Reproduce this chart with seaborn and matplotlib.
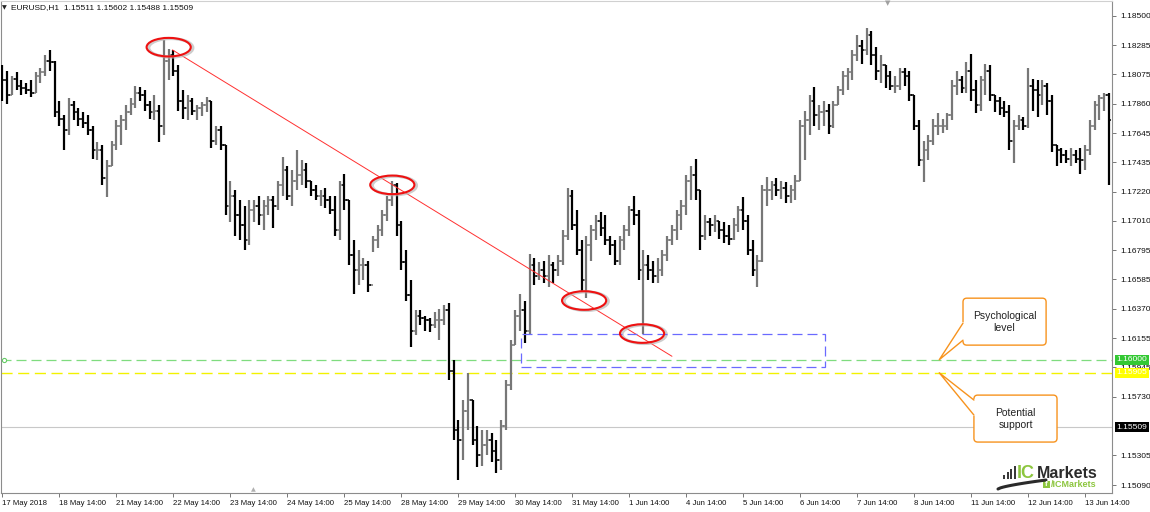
import numpy as np
import pandas as pd
import seaborn as sns
import matplotlib.pyplot as plt
from matplotlib.patches import Ellipse, Rectangle, FancyBboxPatch
from matplotlib.lines import Line2D

# 2-hour bars (17 May 14:00 -> 14 Jun)
highs = [1.1814, 1.1810, 1.1806, 1.1809, 1.1803, 1.1801, 1.1803, 1.1809, 1.1812, 1.1821,
         1.1825, 1.1817, 1.1788, 1.1778, 1.1790, 1.1788, 1.1783, 1.1780, 1.1778, 1.1770,
         1.1758, 1.1756, 1.1745, 1.1759, 1.1774, 1.1778, 1.1785, 1.1790, 1.1799, 1.1798,
         1.1796, 1.1788, 1.1792, 1.1785, 1.1832, 1.1826, 1.1825, 1.1814, 1.1796, 1.1792,
         1.1790, 1.1785, 1.1787, 1.1791, 1.1788, 1.1770, 1.1770, 1.1756, 1.1730, 1.1723,
         1.1716, 1.1712, 1.1716, 1.1716, 1.1719, 1.1716, 1.1719, 1.1719, 1.1730, 1.1747,
         1.1741, 1.1738, 1.1752, 1.1745, 1.1743, 1.1730, 1.1727, 1.1723, 1.1725, 1.1719,
         1.1719, 1.1730, 1.1735, 1.1716, 1.1687, 1.1680, 1.1674, 1.1672, 1.1690, 1.1698,
         1.1709, 1.1719, 1.1730, 1.1728, 1.1701, 1.1680, 1.1658, 1.1636, 1.1636, 1.1632,
         1.1630, 1.1635, 1.1637, 1.1640, 1.1641, 1.1600, 1.1556, 1.1571, 1.1590, 1.1571,
         1.1552, 1.1549, 1.1549, 1.1547, 1.1542, 1.1556, 1.1585, 1.1614, 1.1636, 1.1648,
         1.1643, 1.1677, 1.1674, 1.1671, 1.1672, 1.1676, 1.1671, 1.1676, 1.1694, 1.1725,
         1.1723, 1.1709, 1.1687, 1.1690, 1.1698, 1.1705, 1.1707, 1.1705, 1.1690, 1.1687,
         1.1690, 1.1698, 1.1712, 1.1719, 1.1709, 1.1680, 1.1676, 1.1672, 1.1674, 1.1680,
         1.1690, 1.1698, 1.1709, 1.1716, 1.1734, 1.1741, 1.1746, 1.1723, 1.1705, 1.1703,
         1.1705, 1.1701, 1.1700, 1.1698, 1.1703, 1.1712, 1.1718, 1.1705, 1.1687, 1.1676,
         1.1727, 1.1733, 1.1730, 1.1732, 1.1730, 1.1729, 1.1727, 1.1734, 1.1774, 1.1781,
         1.1792, 1.1798, 1.1785, 1.1788, 1.1786, 1.1788, 1.1799, 1.1810, 1.1812, 1.1825,
         1.1836, 1.1832, 1.1841, 1.1839, 1.1827, 1.1821, 1.1814, 1.1810, 1.1806, 1.1812,
         1.1812, 1.1810, 1.1792, 1.1774, 1.1759, 1.1763, 1.1775, 1.1779, 1.1775, 1.1779,
         1.1803, 1.1810, 1.1806, 1.1816, 1.1822, 1.1803, 1.1806, 1.1815, 1.1814, 1.1792,
         1.1791, 1.1788, 1.1785, 1.1774, 1.1778, 1.1776, 1.1812, 1.1804, 1.1803, 1.1803,
         1.1801, 1.1792, 1.1756, 1.1754, 1.1752, 1.1754, 1.1752, 1.1754, 1.1756, 1.1774,
         1.1788, 1.1792, 1.1794, 1.1794]
lows = [1.1788, 1.1786, 1.1792, 1.1796, 1.1792, 1.1793, 1.1791, 1.1794, 1.1801, 1.1806,
        1.1810, 1.1776, 1.1770, 1.1752, 1.1763, 1.1774, 1.1770, 1.1768, 1.1763, 1.1746,
        1.1745, 1.1727, 1.1718, 1.1741, 1.1752, 1.1756, 1.1767, 1.1778, 1.1783, 1.1788,
        1.1781, 1.1775, 1.1774, 1.1758, 1.1763, 1.1803, 1.1806, 1.1781, 1.1775, 1.1774,
        1.1778, 1.1774, 1.1777, 1.1780, 1.1754, 1.1756, 1.1752, 1.1705, 1.1700, 1.1690,
        1.1687, 1.1680, 1.1683, 1.1700, 1.1698, 1.1694, 1.1705, 1.1696, 1.1709, 1.1719,
        1.1716, 1.1712, 1.1723, 1.1727, 1.1725, 1.1719, 1.1716, 1.1712, 1.1710, 1.1706,
        1.1690, 1.1687, 1.1709, 1.1669, 1.1648, 1.1654, 1.1658, 1.1649, 1.1678, 1.1681,
        1.1690, 1.1701, 1.1712, 1.1690, 1.1665, 1.1643, 1.1609, 1.1618, 1.1625, 1.1621,
        1.1620, 1.1623, 1.1614, 1.1625, 1.1585, 1.1542, 1.1513, 1.1527, 1.1549, 1.1538,
        1.1522, 1.1523, 1.1531, 1.1526, 1.1518, 1.1520, 1.1549, 1.1578, 1.1611, 1.1621,
        1.1612, 1.1618, 1.1654, 1.1658, 1.1656, 1.1653, 1.1656, 1.1661, 1.1669, 1.1687,
        1.1694, 1.1676, 1.1649, 1.1645, 1.1672, 1.1687, 1.1690, 1.1683, 1.1676, 1.1669,
        1.1669, 1.1680, 1.1690, 1.1698, 1.1658, 1.1619, 1.1658, 1.1656, 1.1656, 1.1661,
        1.1672, 1.1683, 1.1687, 1.1694, 1.1705, 1.1716, 1.1716, 1.1680, 1.1687, 1.1690,
        1.1693, 1.1688, 1.1685, 1.1683, 1.1687, 1.1693, 1.1694, 1.1676, 1.1661, 1.1653,
        1.1671, 1.1712, 1.1716, 1.1719, 1.1717, 1.1714, 1.1714, 1.1716, 1.1730, 1.1745,
        1.1763, 1.1770, 1.1767, 1.1770, 1.1764, 1.1768, 1.1785, 1.1792, 1.1796, 1.1803,
        1.1817, 1.1815, 1.1821, 1.1814, 1.1803, 1.1801, 1.1797, 1.1796, 1.1794, 1.1796,
        1.1799, 1.1788, 1.1767, 1.1741, 1.1729, 1.1745, 1.1756, 1.1763, 1.1765, 1.1767,
        1.1774, 1.1792, 1.1794, 1.1794, 1.1788, 1.1779, 1.1781, 1.1792, 1.1788, 1.1780,
        1.1778, 1.1776, 1.1752, 1.1743, 1.1767, 1.1767, 1.1768, 1.1781, 1.1776, 1.1785,
        1.1778, 1.1751, 1.1741, 1.1743, 1.1743, 1.1741, 1.1743, 1.1735, 1.1738, 1.1749,
        1.1767, 1.1774, 1.1781, 1.1727]
closes = [1.1803, 1.1792, 1.1804, 1.1799, 1.1797, 1.1796, 1.1794, 1.1806, 1.1809, 1.1817,
          1.1816, 1.1780, 1.1775, 1.1767, 1.1785, 1.1780, 1.1775, 1.1772, 1.1767, 1.1752,
          1.1752, 1.1732, 1.1741, 1.1756, 1.1770, 1.1774, 1.1780, 1.1786, 1.1794, 1.1792,
          1.1785, 1.1780, 1.1781, 1.1770, 1.1817, 1.1821, 1.1810, 1.1788, 1.1783, 1.1788,
          1.1781, 1.1783, 1.1785, 1.1788, 1.1759, 1.1767, 1.1756, 1.1712, 1.1719, 1.1705,
          1.1698, 1.1687, 1.1709, 1.1712, 1.1705, 1.1712, 1.1716, 1.1712, 1.1727, 1.1738,
          1.1719, 1.1730, 1.1734, 1.1738, 1.1730, 1.1723, 1.1719, 1.1719, 1.1716, 1.1709,
          1.1694, 1.1727, 1.1716, 1.1676, 1.1665, 1.1669, 1.1669, 1.1654, 1.1687, 1.1694,
          1.1705, 1.1716, 1.1727, 1.1698, 1.1671, 1.1647, 1.1621, 1.1632, 1.1630, 1.1629,
          1.1625, 1.1629, 1.1629, 1.1636, 1.1592, 1.1549, 1.1542, 1.1563, 1.1571, 1.1542,
          1.1531, 1.1538, 1.1542, 1.1534, 1.1527, 1.1552, 1.1582, 1.1611, 1.1632, 1.1636,
          1.1621, 1.1669, 1.1661, 1.1665, 1.1661, 1.1669, 1.1665, 1.1672, 1.1690, 1.1719,
          1.1698, 1.1680, 1.1658, 1.1683, 1.1694, 1.1701, 1.1696, 1.1687, 1.1683, 1.1672,
          1.1687, 1.1694, 1.1709, 1.1705, 1.1665, 1.1669, 1.1665, 1.1661, 1.1665, 1.1676,
          1.1687, 1.1694, 1.1705, 1.1712, 1.1730, 1.1734, 1.1723, 1.1690, 1.1700, 1.1698,
          1.1701, 1.1694, 1.1690, 1.1688, 1.1698, 1.1709, 1.1701, 1.1680, 1.1665, 1.1672,
          1.1723, 1.1723, 1.1727, 1.1723, 1.1725, 1.1719, 1.1723, 1.1730, 1.1770, 1.1774,
          1.1788, 1.1778, 1.1780, 1.1781, 1.1770, 1.1785, 1.1796, 1.1806, 1.1809, 1.1821,
          1.1828, 1.1825, 1.1836, 1.1821, 1.1810, 1.1814, 1.1806, 1.1799, 1.1799, 1.1809,
          1.1806, 1.1792, 1.1770, 1.1745, 1.1752, 1.1759, 1.1770, 1.1770, 1.1770, 1.1778,
          1.1799, 1.1803, 1.1797, 1.1810, 1.1796, 1.1785, 1.1803, 1.1810, 1.1792, 1.1788,
          1.1783, 1.1780, 1.1759, 1.1770, 1.1774, 1.1770, 1.1799, 1.1796, 1.1792, 1.1799,
          1.1788, 1.1756, 1.1752, 1.1749, 1.1746, 1.1749, 1.1746, 1.1745, 1.1752, 1.1770,
          1.1785, 1.1790, 1.1792, 1.1774]
first_open = 1.1808

date_labels = ["17 May 2018", "18 May 14:00", "21 May 14:00", "22 May 14:00", "23 May 14:00",
               "24 May 14:00", "25 May 14:00", "28 May 14:00", "29 May 14:00", "30 May 14:00",
               "31 May 14:00", "1 Jun 14:00", "4 Jun 14:00", "5 Jun 14:00", "6 Jun 14:00",
               "7 Jun 14:00", "8 Jun 14:00", "11 Jun 14:00", "12 Jun 14:00", "13 Jun 14:00"]
bars_per_day = 12

price_ticks = [1.18500, 1.18285, 1.18075, 1.17860, 1.17645, 1.17435, 1.17220, 1.17010,
               1.16795, 1.16585, 1.16370, 1.16155, 1.15945, 1.15730, 1.15305, 1.15090]

psych_level = 1.16000
support_level = 1.15905
last_price = 1.15509
header = "EURUSD,H1  1.15511 1.15602 1.15488 1.15509"

# annotations drawn on the chart
swing_idx = [35.0, 82.1, 122.5, 134.7]
swing_price = [1.1827, 1.1727, 1.1643, 1.1619]
trend_idx = [35.8, 141.0]
trend_price = [1.1825, 1.16025]
zone_idx = [109.2, 173.3]
zone_price = [1.15945, 1.1619]

df = pd.DataFrame({"high": highs, "low": lows, "close": closes})
df["open"] = df["close"].shift(1).fillna(first_open)
df["idx"] = np.arange(len(df))
df["up"] = df["close"] >= df["open"]

sns.set_theme(style="white")
plt.rcParams["font.family"] = ["Liberation Sans", "DejaVu Sans"]

W, H = 1150, 512
fig = plt.figure(figsize=(W / 100, H / 100), dpi=100)
ax = fig.add_axes([0.5 / W, 19 / H, 1111.5 / W, 492.5 / H])
ax.set_xlim(-0.42, 233.68)
ax.set_ylim(1.15032, 1.18609)

# -----------------------------
# OHLC bars
# -----------------------------
for up, col in [(True, "#777777"), (False, "black")]:
    d = df[df["up"] == up]
    ax.vlines(d["idx"], d["low"], d["high"], color=col, lw=1.6, zorder=3)
    ax.hlines(d["open"], d["idx"] - 0.55, d["idx"], color=col, lw=1.1, zorder=3)
    ax.hlines(d["close"], d["idx"], d["idx"] + 0.55, color=col, lw=1.1, zorder=3)

# levels
ax.axhline(last_price, color="#c8c8c8", lw=0.8, zorder=1)
ax.axhline(psych_level, color="#7fdc7f", lw=0.9, ls=(0, (8, 4)), zorder=2)
ax.axhline(support_level, color="#f2f200", lw=1.0, ls=(0, (8, 4)), zorder=2)
ax.plot([0.3], [psych_level], marker="o", ms=3, mfc="white", mec="#66cc66", mew=0.8, zorder=4)

# trend line + swing ellipses
sns.lineplot(x=trend_idx, y=trend_price, color="#ff3030", lw=0.7, ax=ax, zorder=4)
for xi, yi in zip(swing_idx, swing_price):
    ax.add_patch(Ellipse((xi + 0.45, yi - 0.00005), 9.3, 0.00135, fill=False,
                         ec="#b8b8b8", lw=2.2, alpha=0.7, zorder=4))
    ax.add_patch(Ellipse((xi, yi), 9.3, 0.00135, fill=False, ec="#ee1111", lw=1.5, zorder=5))

ax.add_patch(Rectangle((zone_idx[0], zone_price[0]), zone_idx[1] - zone_idx[0],
                       zone_price[1] - zone_price[0], fill=False, ec="#6a6aff",
                       lw=0.9, ls=(0, (8, 4)), zorder=4))

# -----------------------------
# callouts
# -----------------------------
orange = "#f7931e"
aspect = 0.00007255 * 4.75


def callout(x0, x1, ytop, ybot, ya, yb, tip_x, tip_y, text):
    box = FancyBboxPatch((x0, ybot), x1 - x0, ytop - ybot,
                         boxstyle="round,pad=0,rounding_size=0.8", mutation_aspect=aspect,
                         fc="white", ec=orange, lw=1.0, zorder=6)
    ax.add_patch(box)
    ax.plot([x0, x0], [ya, yb], color="white", lw=1.6, zorder=7)
    ax.plot([x0, tip_x, x0], [ya, tip_y, yb], color=orange, lw=1.0, zorder=7)
    ax.text((x0 + x1) / 2, (ytop + ybot) / 2, text, ha="center", va="center",
            fontsize=7.5, color="#222222", linespacing=1.25, zorder=8)


callout(202.3, 219.8, 1.16447, 1.16106, 1.16266, 1.16142, 197.3, psych_level,
        "Psychological\nlevel")
callout(204.6, 222.1, 1.15743, 1.15402, 1.15707, 1.15598, 197.3, support_level,
        "Potential\nsupport")

# -----------------------------
# axes / ticks
# -----------------------------
for s in ax.spines.values():
    s.set_color("#8c8c8c")
    s.set_linewidth(0.8)
ax.spines["top"].set_color("#d0d0d0")

ax.yaxis.tick_right()
ax.set_yticks(price_ticks)
ax.set_yticklabels([f"{p:.5f}" for p in price_ticks])
ax.set_xticks(np.arange(len(date_labels)) * bars_per_day)
ax.set_xticklabels(date_labels)
for lab in ax.get_xticklabels():
    lab.set_ha("left")
ax.tick_params(axis="y", right=True, length=3, width=0.6, color="#606060",
               labelsize=6, pad=3, labelcolor="#111111")
ax.tick_params(axis="x", bottom=True, length=3, width=0.6, color="#606060",
               labelsize=5.6, pad=2, labelcolor="#111111")
ax.set_xlabel("")
ax.set_ylabel("")
ax.grid(False)

ytr = ax.get_yaxis_transform()
for level, fc, tc in [(psych_level, "#33c833", "white"), (support_level, "#ffff00", "white"),
                      (last_price, "black", "white")]:
    ax.text(1.004, level, f"{level:.5f}", transform=ytr, ha="left", va="center",
            fontsize=6, color=tc, clip_on=False, zorder=9,
            bbox=dict(boxstyle="square,pad=0.2", fc=fc, ec="none"))


# -----------------------------
# header, markers, logo
# -----------------------------
def fx(x):
    return x / W


def fy(y):
    return 1 - y / H


fig.text(fx(2), fy(8), "\u25bc", fontsize=4.5, family="DejaVu Sans", va="center", color="#222")
fig.text(fx(11), fy(8), header, fontsize=6, va="center", color="#111")
fig.text(fx(888), fy(3), "\u25bc", fontsize=5, family="DejaVu Sans", ha="center",
         va="center", color="#a0a0a0")
fig.text(fx(253), fy(490), "\u25b2", fontsize=4.5, family="DejaVu Sans", ha="center",
         va="center", color="#b0b0b0")

for i, h in enumerate([4, 7, 10, 13]):
    fig.add_artist(Rectangle((fx(1003 + 3.6 * i), fy(479)), 2.2 / W, h / H,
                             transform=fig.transFigure, fc="#3a3a3a", ec="none"))
sw = np.linspace(0, 1, 20)
fig.add_artist(Line2D(fx(998 + 48 * sw), fy(489 - 9 * sw ** 0.7), transform=fig.transFigure,
                      color="#2a2a2a", lw=2.2, solid_capstyle="round"))
fig.text(fx(1017), fy(478), "IC", fontsize=13, weight="bold", color="#8dc63f", va="baseline")
fig.text(fx(1037), fy(478), "Markets", fontsize=11.5, weight="bold", color="#2b2b2b",
         va="baseline")
fig.add_artist(Rectangle((fx(1043), fy(488)), 7 / W, 7 / H, transform=fig.transFigure,
                         fc="#8dc63f", ec="none"))
fig.text(fx(1046.5), fy(484.5), "f", fontsize=5.5, weight="bold", color="white",
         ha="center", va="center")
fig.text(fx(1051), fy(484.5), "/ICMarkets", fontsize=6.5, weight="bold", color="#8dc63f",
         va="center")

fig.savefig("out.png", dpi=100)
